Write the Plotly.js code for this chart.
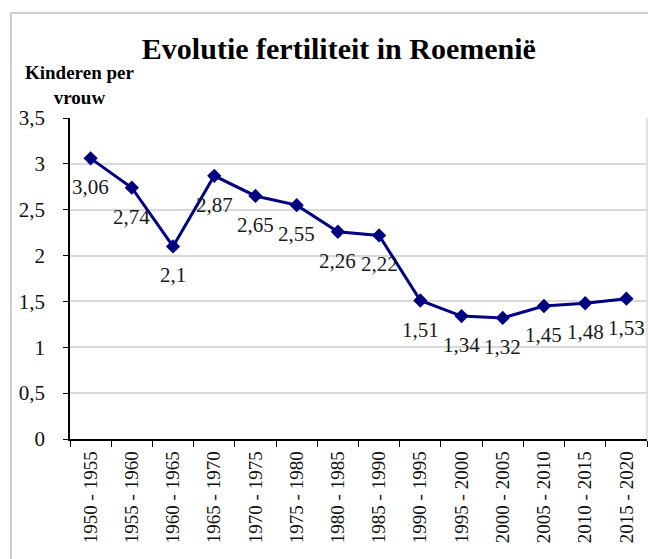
<!DOCTYPE html>
<html>
<head>
<meta charset="utf-8">
<script src="https://cdn.plot.ly/plotly-3.0.1.min.js"></script>
</head>
<body style="margin:0;background:#fff">
<div id="wrap" style="position:relative;width:648px;height:559px;overflow:hidden">
  <div id="chart" style="position:absolute;left:0;top:0;width:648px;height:559px"></div>
  <div id="frame" style="position:absolute;left:10px;top:12px;width:700px;height:600px;border:2px solid #cfcfcf;box-sizing:border-box;pointer-events:none"></div>
</div>
<script>
const periods = ["1950 - 1955","1955 - 1960","1960 - 1965","1965 - 1970","1970 - 1975",
                 "1975 - 1980","1980 - 1985","1985 - 1990","1990 - 1995","1995 - 2000",
                 "2000 - 2005","2005 - 2010","2010 - 2015","2015 - 2020"];
const fertility = [3.06, 2.74, 2.1, 2.87, 2.65, 2.55, 2.26, 2.22, 1.51, 1.34, 1.32, 1.45, 1.48, 1.53];
const yTicks = [0, 0.5, 1, 1.5, 2, 2.5, 3, 3.5];

const serif = "Liberation Serif";
const fmt = v => String(v).replace('.', ',');

const labelAnns = periods.map((p, i) => ({
  x: p, y: fertility[i], xref: 'x', yref: 'y',
  text: fmt(fertility[i]), showarrow: false,
  yshift: -29, font: {family: serif, size: 21, color: '#1a1a1a'}
}));

const trace = {
  x: periods, y: fertility, type: 'scatter', mode: 'lines+markers',
  line: {color: '#000080', width: 3},
  marker: {symbol: 'diamond', size: 11, color: '#000080'},
  hoverinfo: 'skip'
};

const layout = {
  width: 648, height: 559,
  margin: {l: 70, r: 1, t: 118, b: 120, pad: 0},
  paper_bgcolor: '#fff', plot_bgcolor: '#fff',
  separators: ', ',
  showlegend: false,
  font: {family: serif, color: '#111'},
  title: {
    text: '<b>Evolutie fertiliteit in Roemenië</b>',
    font: {family: serif, size: 30, color: '#000'},
    xref: 'container', yref: 'container', x: 0.523, y: 1 - 48/559,
    xanchor: 'center', yanchor: 'middle'
  },
  xaxis: {
    type: 'category', tickangle: -90,
    tickson: 'boundaries', ticks: 'outside', ticklen: 6, tickcolor: '#000', tickwidth: 1,
    showline: true, linecolor: '#000', linewidth: 1.5,
    showgrid: false, automargin: false,
    ticklabelstandoff: 3,
    tickfont: {family: serif, size: 19, color: '#111'},
    range: [-0.5, periods.length - 0.5]
  },
  yaxis: {
    range: [0, 3.5], tickvals: yTicks, ticktext: yTicks.map(fmt),
    ticks: 'outside', ticklen: 5, tickcolor: '#000', tickwidth: 1,
    showline: true, linecolor: '#000', linewidth: 1.5,
    showgrid: true, gridcolor: '#d9d9d9', gridwidth: 1.5,
    zeroline: false, automargin: false,
    ticklabelstandoff: 14,
    tickfont: {family: serif, size: 21, color: '#111'}
  },
  shapes: [{
    type: 'line', xref: 'paper', yref: 'paper', x0: 1, x1: 1, y0: 0, y1: 1,
    line: {color: '#d9d9d9', width: 1.5}
  }],
  annotations: labelAnns.concat([{
    xref: 'paper', yref: 'paper', x: (79 - 70) / 577, y: (439 - 85) / 321,
    xanchor: 'center', yanchor: 'middle', align: 'center', showarrow: false,
    text: '<b>Kinderen per<br>vrouw</b>',
    font: {family: serif, size: 19, color: '#000'}
  }])
};

Plotly.newPlot('chart', [trace], layout, {displayModeBar: false});
</script>
</body>
</html>
